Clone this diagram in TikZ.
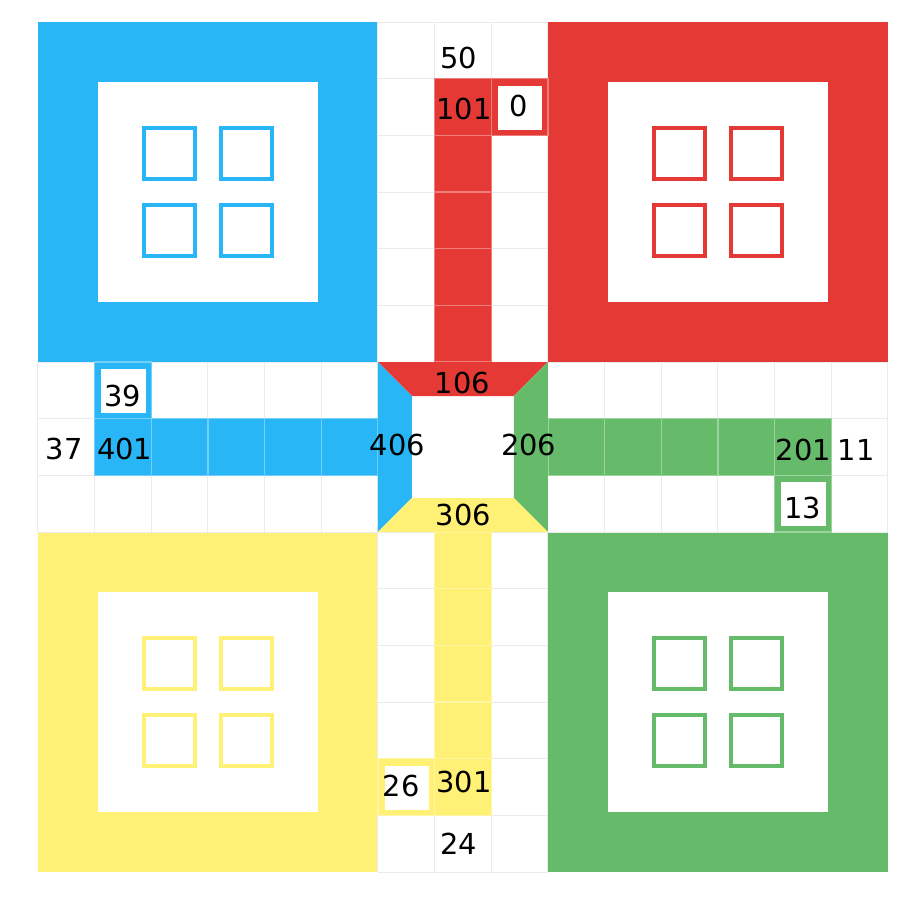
\documentclass[tikz,border=0pt]{standalone}
\usepackage{fontspec}
\setmainfont{DejaVu Sans}
\definecolor{lblue}{HTML}{29B6F6}
\definecolor{lred}{HTML}{E53935}
\definecolor{lgreen}{HTML}{66BB6A}
\definecolor{lyellow}{HTML}{FFF176}
\tikzset{
  gridline/.style={draw=black!8, line width=0.5pt},
  homecell/.style={fill=#1, draw=#1!65!white, line width=0.6pt},
  startbox/.style={fill=white},
  basesq/.style={draw=#1, line width=2pt},
  lbl/.style={font=\fontsize{14.5}{17}\selectfont, inner sep=0pt, text=black},
}
\begin{document}
\begin{tikzpicture}[x=1cm,y=-1cm]
\useasboundingbox (-0.67,-0.39) rectangle (15.62,15.83);
% bases
\foreach \bx/\by/\bc in {0/0/lblue, 9/0/lred, 0/9/lyellow, 9/9/lgreen}{
  \fill[\bc] (\bx,\by) rectangle ++(6,6);
  \fill[white] (\bx+1.06,\by+1.06) rectangle (\bx+4.94,\by+4.94);
  \foreach \dx in {-0.68,0.68}{
    \foreach \dy in {-0.68,0.68}{
      \draw[basesq=\bc] (\bx+3+\dx-0.45,\by+3+\dy-0.45) rectangle ++(0.9,0.9);
    }
  }
}
% track grid
\draw[gridline] (6,0) grid (9,6);
\draw[gridline] (6,9) grid (9,15);
\draw[gridline] (0,6) grid (6,9);
\draw[gridline] (9,6) grid (15,9);
% home columns
\foreach \r in {1,...,5}{ \filldraw[homecell=lred] (7,\r) rectangle ++(1,1); }
\filldraw[homecell=lred] (8,1) rectangle ++(1,1);
\fill[startbox] (8.12,1.12) rectangle (8.9,1.9);
\foreach \c in {1,...,5}{ \filldraw[homecell=lblue] (\c,7) rectangle ++(1,1); }
\filldraw[homecell=lblue] (1,6) rectangle ++(1,1);
\fill[startbox] (1.12,6.12) rectangle (1.9,6.9);
\foreach \c in {9,...,13}{ \filldraw[homecell=lgreen] (\c,7) rectangle ++(1,1); }
\filldraw[homecell=lgreen] (13,8) rectangle ++(1,1);
\fill[startbox] (13.12,8.12) rectangle (13.9,8.9);
\foreach \r in {9,...,13}{ \filldraw[homecell=lyellow] (7,\r) rectangle ++(1,1); }
\filldraw[homecell=lyellow] (6,13) rectangle ++(1,1);
\fill[startbox] (6.12,13.12) rectangle (6.9,13.9);
% centre
\fill[lred] (6,6) -- (9,6) -- (8.4,6.6) -- (6.6,6.6) -- cycle;
\fill[lblue] (6,6) -- (6.6,6.6) -- (6.6,8.4) -- (6,9) -- cycle;
\fill[lgreen] (9,6) -- (9,9) -- (8.4,8.4) -- (8.4,6.6) -- cycle;
\fill[lyellow] (6,9) -- (9,9) -- (8.4,8.4) -- (6.6,8.4) -- cycle;
% labels
\node[lbl] (n50) at (7.43,0.63) {50};
\node[lbl] (n101) at (7.52,1.53) {101};
\node[lbl] (n0) at (8.48,1.48) {0};
\node[lbl] (n106) at (7.49,6.37) {106};
\node[lbl] (n406) at (6.34,7.46) {406};
\node[lbl] (n206) at (8.66,7.46) {206};
\node[lbl] (n306) at (7.51,8.70) {306};
\node[lbl] (n37) at (0.46,7.53) {37};
\node[lbl] (n401) at (1.53,7.53) {401};
\node[lbl] (n39) at (1.50,6.60) {39};
\node[lbl] (n201) at (13.51,7.55) {201};
\node[lbl] (n11) at (14.44,7.55) {11};
\node[lbl] (n13) at (13.50,8.57) {13};
\node[lbl] (n26) at (6.41,13.49) {26};
\node[lbl] (n301) at (7.52,13.41) {301};
\node[lbl] (n24) at (7.43,14.50) {24};
\end{tikzpicture}
\end{document}
